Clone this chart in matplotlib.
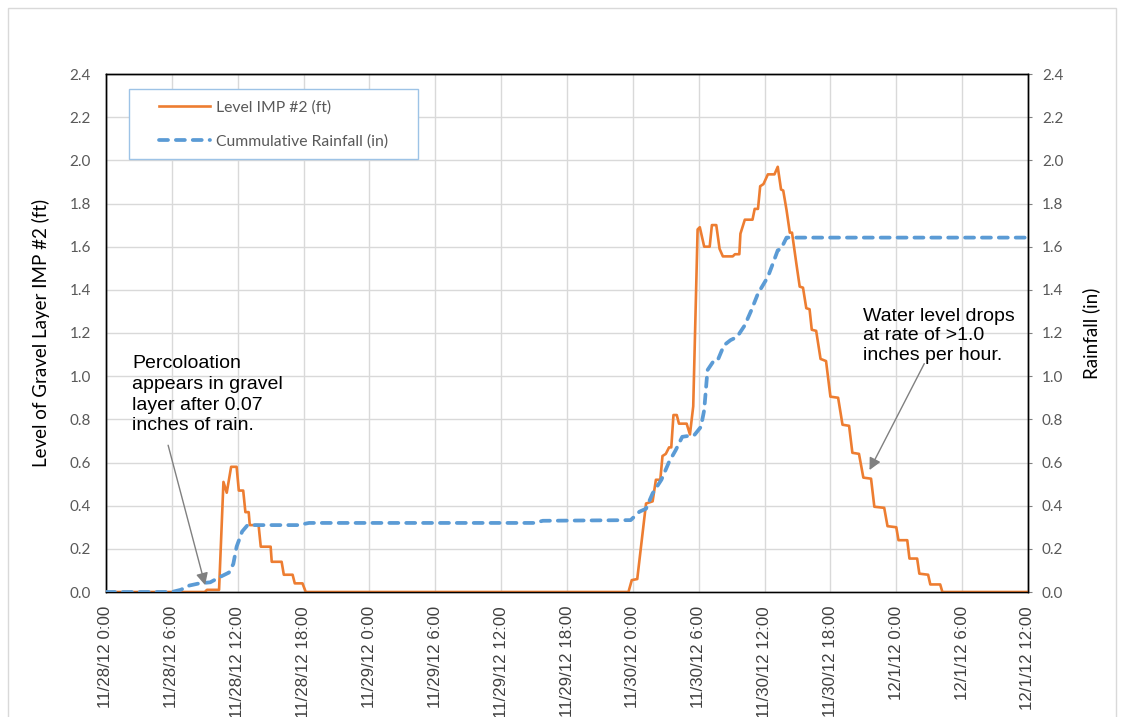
import matplotlib
matplotlib.use("Agg")
import matplotlib.pyplot as plt
from matplotlib.patches import Rectangle

# hours since 11/28/12 0:00
level_hours = [0, 9.0, 9.2, 10.3, 10.7, 11.0, 11.4, 11.9, 12.1, 12.5, 12.7, 13.0, 13.1, 13.9,
               14.1, 15.0, 15.1, 16.0, 16.2, 17.0, 17.2, 17.9, 18.2,
               47.6, 47.9, 48.4, 49.2, 49.8, 50.1, 50.5, 50.7, 51.0, 51.3, 51.5, 51.7, 52.0,
               52.2, 52.9, 53.2, 53.5, 53.9, 54.1, 54.5, 55.0, 55.2, 55.6, 55.9, 56.2, 57.1,
               57.3, 57.7, 57.8, 58.2, 58.9, 59.1, 59.4, 59.6, 59.9, 60.3, 60.9, 61.2, 61.5,
               61.7, 62.0, 62.3, 62.5, 62.9, 63.2, 63.5, 63.8, 64.1, 64.3, 64.7, 65.1, 65.6,
               66.0, 66.7, 67.1, 67.7, 68.0, 68.6, 69.0, 69.7, 70.0, 70.9, 71.2, 72.0, 72.2,
               73.0, 73.2, 73.9, 74.1, 74.9, 75.1, 76.0, 76.2, 84]
level_ft = [0, 0, 0.01, 0.01, 0.51, 0.46, 0.58, 0.58, 0.47, 0.47, 0.37, 0.37, 0.31, 0.31,
            0.21, 0.21, 0.14, 0.14, 0.08, 0.08, 0.04, 0.04, 0,
            0, 0.055, 0.06, 0.41, 0.42, 0.52, 0.52, 0.63, 0.64, 0.67, 0.67, 0.82, 0.82,
            0.78, 0.78, 0.73, 0.86, 1.68, 1.69, 1.60, 1.60, 1.70, 1.70, 1.59, 1.555, 1.555,
            1.565, 1.565, 1.66, 1.725, 1.725, 1.775, 1.775, 1.88, 1.89, 1.935, 1.935, 1.97, 1.865,
            1.86, 1.77, 1.665, 1.665, 1.52, 1.415, 1.41, 1.315, 1.31, 1.215, 1.21, 1.08, 1.07,
            0.905, 0.90, 0.775, 0.77, 0.645, 0.64, 0.53, 0.525, 0.395, 0.39, 0.305, 0.30, 0.24,
            0.24, 0.155, 0.155, 0.085, 0.08, 0.035, 0.035, 0, 0]

rain_hours = [0, 6.0, 6.8, 7.6, 8.5, 9.5, 10.4, 11.2, 11.6, 11.9, 12.4, 12.9, 17.5, 18.5,
              39.0, 39.8, 47.8, 48.6, 49.2, 49.8, 50.6, 51.3, 51.9, 52.5, 53.6, 54.2, 54.5,
              54.8, 55.3, 55.7, 56.3, 56.9, 57.5, 58.2, 58.8, 59.4, 60.3, 60.7, 61.2, 61.5,
              62.0, 84]
rain_in = [0, 0, 0.01, 0.03, 0.04, 0.045, 0.07, 0.09, 0.13, 0.21, 0.28, 0.31, 0.31, 0.32,
           0.32, 0.33, 0.333, 0.372, 0.386, 0.457, 0.52, 0.603, 0.657, 0.719, 0.727, 0.765, 0.843,
           1.028, 1.066, 1.07, 1.143, 1.167, 1.182, 1.236, 1.306, 1.383, 1.46, 1.514, 1.583, 1.59,
           1.642, 1.642]

tick_hours = list(range(0, 85, 6))
tick_labels = ["11/28/12 0:00", "11/28/12 6:00", "11/28/12 12:00", "11/28/12 18:00",
               "11/29/12 0:00", "11/29/12 6:00", "11/29/12 12:00", "11/29/12 18:00",
               "11/30/12 0:00", "11/30/12 6:00", "11/30/12 12:00", "11/30/12 18:00",
               "12/1/12 0:00", "12/1/12 6:00", "12/1/12 12:00"]
y_ticks = [0.0, 0.2, 0.4, 0.6, 0.8, 1.0, 1.2, 1.4, 1.6, 1.8, 2.0, 2.2, 2.4]

ORANGE = "#ED7D31"
BLUE = "#5B9BD5"
GRID = "#d9d9d9"
TICK_GRAY = "#595959"

W, H = 1124, 717
fig = plt.figure(figsize=(W / 100, H / 100), dpi=100)
fig.patches.append(Rectangle((8 / W, -0.02), (1116 - 8) / W, 1.02 - 8 / H,
                             transform=fig.transFigure, fill=False,
                             edgecolor=GRID, lw=1))

x0, x1, ytop, ybot = 106, 1028, 74, 592
ax = fig.add_axes([x0 / W, (H - ybot) / H, (x1 - x0) / W, (ybot - ytop) / H])
ax2 = ax.twinx()

for a in (ax, ax2):
    a.set_xlim(0, 84)
    a.set_ylim(0, 2.4)
    a.set_yticks(y_ticks)
    a.set_yticklabels([f"{v:.1f}" for v in y_ticks], fontfamily="Lato",
                      fontsize=11, color=TICK_GRAY)
    for s in a.spines.values():
        s.set_color("black")
        s.set_linewidth(1.0)
ax.spines["bottom"].set_color("#595959")

ax.set_xticks(tick_hours)
ax.set_xticklabels(tick_labels, rotation=90, fontfamily="Liberation Sans",
                   fontsize=12.2, color="#404040", ha="center", va="top")
ax.tick_params(axis="x", length=0, pad=10)
ax.tick_params(axis="y", length=0, pad=11)
ax2.tick_params(axis="y", length=3, pad=7, color="#808080", width=0.8)

ax.grid(True, color=GRID, lw=1)
ax.set_axisbelow(True)

ax.plot(level_hours, level_ft, color=ORANGE, lw=1.9, zorder=3)
ax2.plot(rain_hours, rain_in, color=BLUE, lw=2.7, dashes=(2.4, 2.1),
         dash_capstyle="round", zorder=3)

ax.set_ylabel("Level of Gravel Layer IMP #2 (ft)", fontfamily="Lato", fontsize=13.5,
              color="black")
ax.yaxis.set_label_coords(-0.061, 0.5)
ax2.set_ylabel("Rainfall (in)", fontfamily="Lato", fontsize=13.5, color="black",
               rotation=90)
ax2.yaxis.set_label_coords(1.059, 0.5)

# legend box drawn separately so its padding can be set freely
ax2.add_patch(Rectangle((0.0253, 0.8353), 0.3128, 0.135, transform=ax2.transAxes,
                        facecolor="white", edgecolor="#9dc3e6", lw=1, zorder=6))
h1, = ax2.plot([], [], color=ORANGE, lw=1.9)
h2, = ax2.plot([], [], color=BLUE, lw=2.7, dashes=(2.4, 2.1), dash_capstyle="round")
leg = ax2.legend([h1, h2], ["Level IMP #2 (ft)", "Cummulative Rainfall (in)"],
                 loc="upper left", bbox_to_anchor=(0.0578, 0.950), frameon=False,
                 borderpad=0, borderaxespad=0, handlelength=3.2, handletextpad=0.4,
                 labelspacing=1.28, prop={"family": "Lato", "size": 11.35})
leg.set_zorder(7)
for t in leg.get_texts():
    t.set_color(TICK_GRAY)

note_font = dict(fontfamily="Liberation Sans", fontsize=14, color="black", zorder=8)
ax2.text(2.4, 0.73, "Percoloation\nappears in gravel\nlayer after 0.07\ninches of rain.",
         ha="left", va="bottom", linespacing=1.3, **note_font)
ax2.annotate("", xy=(9.03, 0.032), xytext=(5.66, 0.68),
             arrowprops=dict(arrowstyle="-|>", color="#808080", lw=1,
                             mutation_scale=18, shrinkA=0, shrinkB=0), zorder=8)
ax2.text(69.0, 1.056, "Water level drops\nat rate of >1.0\ninches per hour.",
         ha="left", va="bottom", linespacing=1.2, **note_font)
ax2.annotate("", xy=(69.56, 0.565), xytext=(74.55, 1.058),
             arrowprops=dict(arrowstyle="-|>", color="#808080", lw=1,
                             mutation_scale=18, shrinkA=0, shrinkB=0), zorder=8)

fig.savefig("out.png", dpi=100)
